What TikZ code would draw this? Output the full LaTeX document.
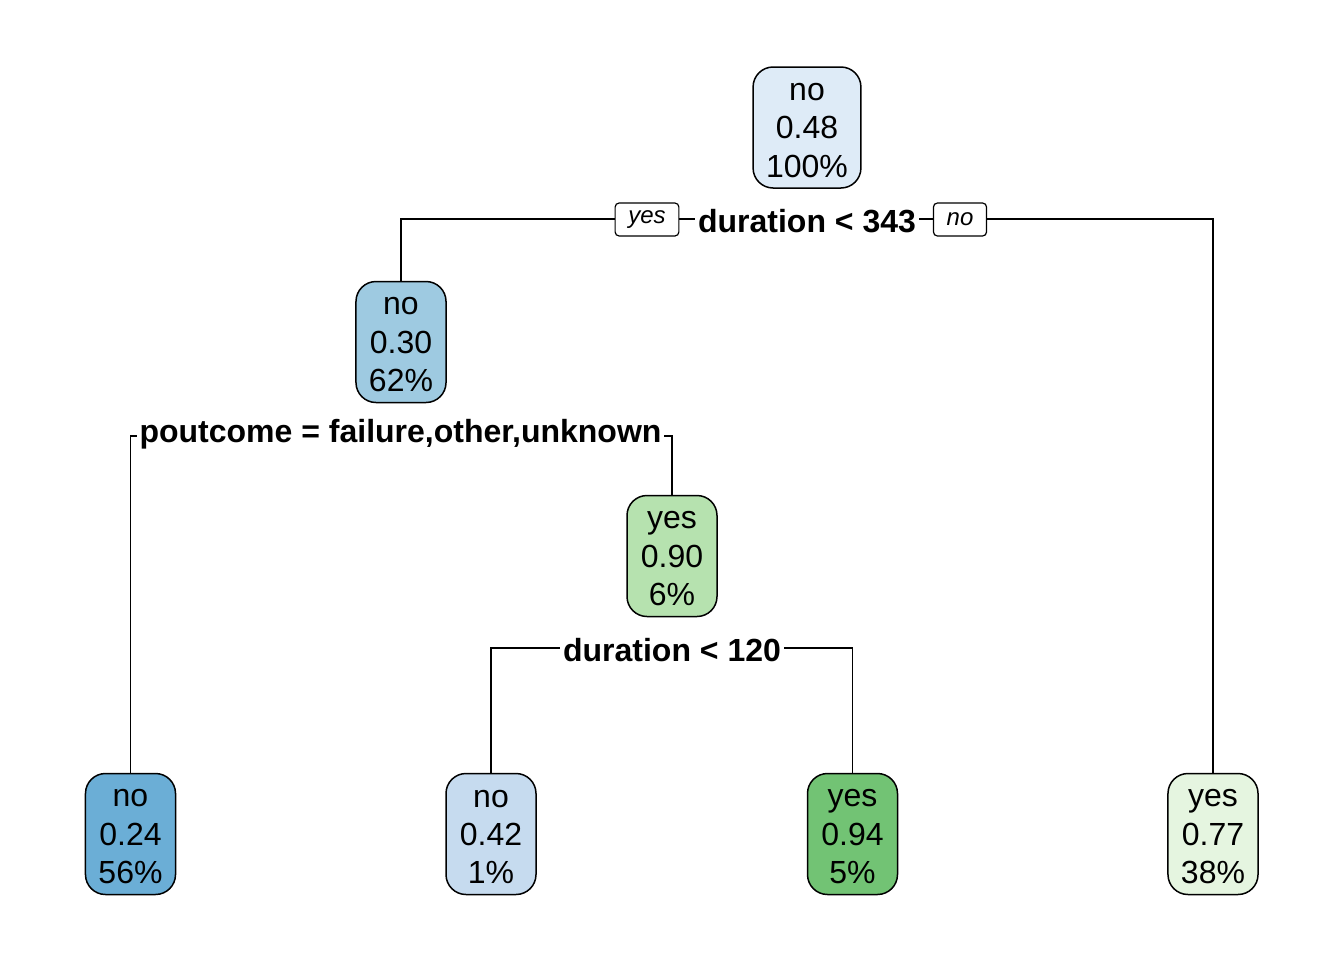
\documentclass[tikz,border=0pt]{standalone}
\usepackage{fontspec}
\setmainfont{Liberation Sans}
\definecolor{cRoot}{HTML}{DEEBF7}
\definecolor{cN2}{HTML}{9ECAE1}
\definecolor{cL1}{HTML}{6BAED6}
\definecolor{cL2}{HTML}{C6DBEF}
\definecolor{cN3}{HTML}{B6E2AF}
\definecolor{cL3}{HTML}{72C374}
\definecolor{cL4}{HTML}{E5F5E0}
\newcommand{\toprl}{\rule{0pt}{11.5pt}}
\tikzset{
  treenode/.style={draw=black, line width=0.75pt, rounded corners=10pt, align=center,
    minimum width=45pt, minimum height=60.5pt, inner xsep=6.5pt, inner ysep=0pt,
    font=\fontsize{16}{19.2}\selectfont},
  splitlabel/.style={fill=white, inner xsep=1.5pt, inner ysep=1pt,
    font=\fontsize{16}{19}\selectfont\bfseries},
  yesno/.style={draw=black, fill=white, line width=0.6pt, rounded corners=2pt,
    font=\fontsize{12}{14}\selectfont\itshape, minimum height=16.5pt, inner xsep=6.6pt, inner ysep=1pt},
  edge/.style={line width=0.75pt, draw=black}
}
\begin{document}
\begin{tikzpicture}[x=0.5pt,y=-0.5pt]
\useasboundingbox (0,0) rectangle (1344,960);
% nodes
\node[treenode, fill=cRoot] (root) at (807,127.5) {\toprl no\\0.48\\100\%};
\node[treenode, fill=cN2] (n2) at (401,342) {\toprl no\\0.30\\62\%};
\node[treenode, fill=cN3] (n3) at (672,556) {\toprl yes\\0.90\\6\%};
\node[treenode, fill=cL1] (l1) at (130.5,834) {\toprl no\\0.24\\56\%};
\node[treenode, fill=cL2] (l2) at (491,834) {\toprl no\\0.42\\1\%};
\node[treenode, fill=cL3] (l3) at (852.5,834) {\toprl yes\\0.94\\5\%};
\node[treenode, fill=cL4] (l4) at (1213,834) {\toprl yes\\0.77\\38\%};
% split coordinates
\coordinate (a1) at (401,219);
\coordinate (b1) at (1213,219);
\coordinate (a2) at (130.5,436);
\coordinate (b2) at (672,436);
\coordinate (a3) at (491,648);
\coordinate (b3) at (852.5,648);
% connectors
\draw[edge] (n2.north) -- (a1) -- (b1) -- (l4.north);
\draw[edge] (l1.north) -- (a2) -- (b2) -- (n3.north);
\draw[edge] (l2.north) -- (a3) -- (b3) -- (l3.north);
% split labels
\node[splitlabel] (s1) at (807,221) {duration < 343};
\node[yesno] (yes1) at (647,219.5) {yes};
\node[yesno] (no1) at (960,219.5) {no};
\node[splitlabel] (s2) at (400.5,434) {poutcome = failure,other,unknown};
\node[splitlabel] (s3) at (672,650) {duration < 120};
\end{tikzpicture}
\end{document}
